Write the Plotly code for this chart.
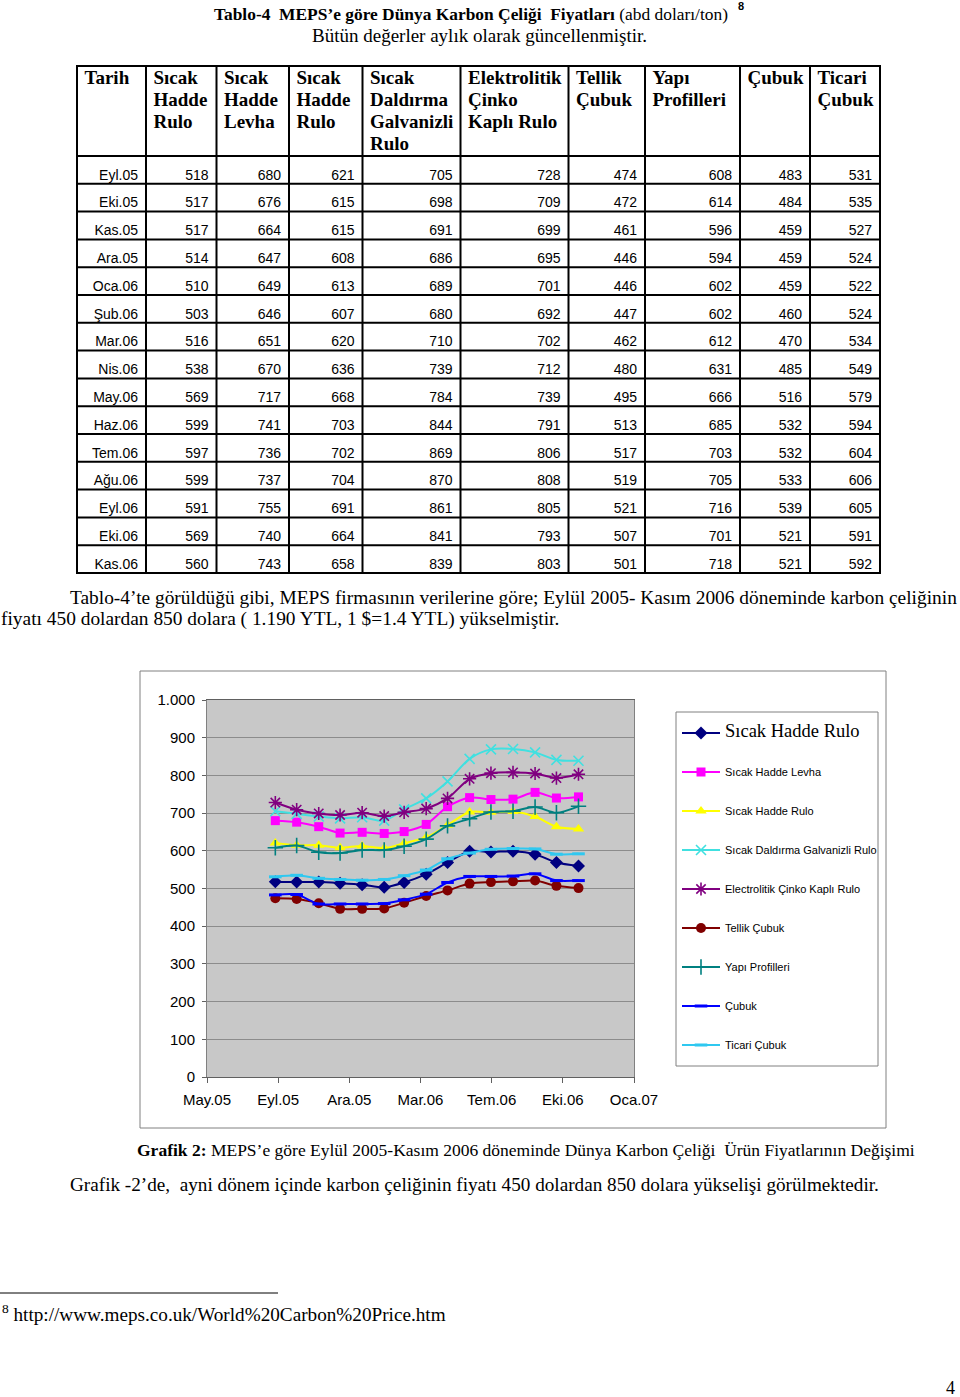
import plotly.graph_objects as go

# ---------------- data ----------------
months = ["Eyl.05", "Eki.05", "Kas.05", "Ara.05", "Oca.06", "Şub.06", "Mar.06", "Nis.06",
          "May.06", "Haz.06", "Tem.06", "Ağu.06", "Eyl.06", "Eki.06", "Kas.06"]
month_dates = ["2005-09-01", "2005-10-01", "2005-11-01", "2005-12-01", "2006-01-01", "2006-02-01",
               "2006-03-01", "2006-04-01", "2006-05-01", "2006-06-01", "2006-07-01", "2006-08-01",
               "2006-09-01", "2006-10-01", "2006-11-01"]

sicak_hadde_rulo = [518, 517, 517, 514, 510, 503, 516, 538, 569, 599, 597, 599, 591, 569, 560]
sicak_hadde_levha = [680, 676, 664, 647, 649, 646, 651, 670, 717, 741, 736, 737, 755, 740, 743]
sicak_hadde_rulo_2 = [621, 615, 615, 608, 613, 607, 620, 636, 668, 703, 702, 704, 691, 664, 658]
galvanizli_rulo = [705, 698, 691, 686, 689, 680, 710, 739, 784, 844, 869, 870, 861, 841, 839]
cinko_kapli_rulo = [728, 709, 699, 695, 701, 692, 702, 712, 739, 791, 806, 808, 805, 793, 803]
tellik_cubuk = [474, 472, 461, 446, 446, 447, 462, 480, 495, 513, 517, 519, 521, 507, 501]
yapi_profilleri = [608, 614, 596, 594, 602, 602, 612, 631, 666, 685, 703, 705, 716, 701, 718]
cubuk = [483, 484, 459, 459, 459, 460, 470, 485, 516, 532, 532, 533, 539, 521, 521]
ticari_cubuk = [531, 535, 527, 524, 522, 524, 534, 549, 579, 594, 604, 606, 605, 591, 592]

table_headers = ["Tarih", "Sıcak\nHadde\nRulo", "Sıcak\nHadde\nLevha", "Sıcak\nHadde\nRulo",
                 "Sıcak\nDaldırma\nGalvanizli\nRulo", "Elektrolitik\nÇinko\nKaplı Rulo",
                 "Tellik\nÇubuk", "Yapı\nProfilleri", "Çubuk", "Ticari\nÇubuk"]
legend_names = ["Sıcak Hadde Rulo", "Sıcak Hadde Levha", "Sıcak Hadde Rulo",
                "Sıcak Daldırma Galvanizli Rulo", "Electrolitik Çinko Kaplı Rulo",
                "Tellik Çubuk", "Yapı Profilleri", "Çubuk", "Ticari Çubuk"]

x_tick_dates = ["2005-05-28", "2005-09-05", "2005-12-14", "2006-03-24", "2006-07-02",
                "2006-10-10", "2007-01-18"]
x_tick_labels = ["May.05", "Eyl.05", "Ara.05", "Mar.06", "Tem.06", "Eki.06", "Oca.07"]

series_values = [sicak_hadde_rulo, sicak_hadde_levha, sicak_hadde_rulo_2, galvanizli_rulo,
                 cinko_kapli_rulo, tellik_cubuk, yapi_profilleri, cubuk, ticari_cubuk]

# ---------------- styles / page layout (pixels) ----------------
W, H = 960, 1397
SERIF = "Liberation Serif"
SANS = "Liberation Sans"

colors = ["#000080", "#FF00FF", "#FFFF00", "#40E0E0", "#800080", "#800000", "#008080", "#0000FF", "#2FC8F0"]
symbols = ["diamond", "square", "triangle-up", "x-thin-open", "asterisk-open", "circle",
           "cross-thin-open", "line-ew-open", "line-ew-open"]
msizes = [10, 9, 10, 10, 11, 10, 11, 9, 9]
mlinew = [0, 0, 0, 1.6, 1.6, 0, 1.6, 3, 3]

COL_EDGES = [77, 146, 216.5, 289, 362.5, 460.5, 568.5, 645, 740, 810, 880]
TABLE_TOP = 66
HEADER_BOTTOM = 156
ROW_H = 27.8

PLOT_L, PLOT_R, PLOT_T, PLOT_B = 207, 634, 700, 1077

fig = go.Figure()

# ---------------- chart ----------------
for i, vals in enumerate(series_values):
    name = legend_names[i]
    if i == 0:
        name = '<span style="font-family:Liberation Serif;font-size:18.5px">' + name + '</span>'
    fig.add_trace(go.Scatter(
        x=month_dates, y=vals, mode="lines+markers", name=name,
        legendgroup="g%d" % i,
        line=dict(color=colors[i], width=2, shape="spline", smoothing=0.8),
        marker=dict(symbol=symbols[i], size=msizes[i], color=colors[i],
                    line=dict(color=colors[i], width=mlinew[i])),
        xaxis="x", yaxis="y", hoverinfo="skip",
    ))

# ---------------- table (overlay pixel axes) ----------------
table_cols = [months] + [[str(v) for v in s] for s in series_values]
cx, cy, ct = [], [], []
for j, col in enumerate(table_cols):
    for i, v in enumerate(col):
        cx.append(COL_EDGES[j + 1] - 8)
        cy.append(HEADER_BOTTOM + ROW_H * i + 20)
        ct.append(v)
fig.add_trace(go.Scatter(
    x=cx, y=cy, text=ct, mode="text", textposition="middle left",
    textfont=dict(family=SANS, size=14, color="black"),
    xaxis="x2", yaxis="y2", showlegend=False, hoverinfo="skip"))

hx, hy, ht = [], [], []
for j, h in enumerate(table_headers):
    for k, line in enumerate(h.split("\n")):
        hx.append(COL_EDGES[j] + 7.5)
        hy.append(79.4 + 22 * k)
        ht.append("<b>" + line + "</b>")
fig.add_trace(go.Scatter(
    x=hx, y=hy, text=ht, mode="text", textposition="middle right",
    textfont=dict(family=SERIF, size=19, color="black"),
    xaxis="x2", yaxis="y2", showlegend=False, hoverinfo="skip"))

shapes = []
row_lines = [TABLE_TOP, HEADER_BOTTOM] + [HEADER_BOTTOM + ROW_H * (i + 1) for i in range(len(months))]
table_bottom = row_lines[-1]
for yv in row_lines:
    shapes.append(dict(type="line", xref="x2", yref="y2", x0=COL_EDGES[0] - 1, x1=COL_EDGES[-1] + 1,
                       y0=yv, y1=yv, line=dict(color="black", width=2)))
for xv in COL_EDGES:
    shapes.append(dict(type="line", xref="x2", yref="y2", x0=xv, x1=xv, y0=TABLE_TOP, y1=table_bottom,
                       line=dict(color="black", width=2)))

# chart frame, legend frame, plot area background
shapes.append(dict(type="rect", xref="x2", yref="y2", x0=140, x1=886, y0=671, y1=1128,
                   line=dict(color="#808080", width=1), fillcolor="rgba(0,0,0,0)"))
shapes.append(dict(type="rect", xref="x2", yref="y2", x0=676, x1=878, y0=712, y1=1066,
                   line=dict(color="#808080", width=1), fillcolor="rgba(0,0,0,0)"))
shapes.append(dict(type="rect", xref="x domain", yref="y domain", x0=0, x1=1, y0=0, y1=1,
                   line=dict(width=0), fillcolor="#c8c8c8", layer="below"))
# footnote rule
shapes.append(dict(type="line", xref="x2", yref="y2", x0=0, x1=278, y0=1293, y1=1293,
                   line=dict(color="black", width=1)))


def ann(x, y, text, size, xanchor="left", family=SERIF, xshift=0):
    return dict(x=x, y=y, xref="x2", yref="y2", text=text, showarrow=False,
                xanchor=xanchor, yanchor="middle", xshift=xshift,
                font=dict(family=family, size=size, color="black"))


annotations = [
    ann(471, 14, "<b>Tablo-4  MEPS’e göre Dünya Karbon Çeliği  Fiyatları</b> (abd doları/ton)", 17.4, "center"),
    ann(741, 6, "<b>8</b>", 11, "center", SANS),
    ann(479, 35, "Bütün değerler aylık olarak güncellenmiştir.", 19, "center"),
    ann(68, 597, "Tablo-4’te görüldüğü gibi, MEPS firmasının verilerine göre; Eylül 2005- Kasım 2006 döneminde karbon çeliğinin", 19.4),
    ann(0.5, 619, "fiyatı 450 dolardan 850 dolara ( 1.190 YTL, 1 $=1.4 YTL) yükselmiştir.", 19.4, xshift=-2),
    ann(526, 1150, "<b>Grafik 2:</b> MEPS’e göre Eylül 2005-Kasım 2006 döneminde Dünya Karbon Çeliği  Ürün Fiyatlarının Değişimi", 17.5, "center"),
    ann(68, 1184, "Grafik -2’de,  ayni dönem içinde karbon çeliğinin fiyatı 450 dolardan 850 dolara yükselişi görülmektedir.", 19.2),
    ann(0.5, 1313, "<sup>8</sup> http://www.meps.co.uk/World%20Carbon%20Price.htm", 19.2, xshift=-1),
    ann(957, 1388, "4", 18, "right"),
]

fig.update_layout(
    width=W, height=H,
    margin=dict(l=0, r=0, t=0, b=0, pad=0, autoexpand=False),
    paper_bgcolor="white", plot_bgcolor="rgba(0,0,0,0)",
    separators=",.",
    showlegend=True,
    legend=dict(x=677 / W, y=1 - 718.5 / H, xanchor="left", yanchor="top",
                bgcolor="rgba(0,0,0,0)", borderwidth=0, itemwidth=38, tracegroupgap=20,
                font=dict(family=SANS, size=11, color="black"), itemclick=False, itemdoubleclick=False),
    xaxis=dict(domain=[PLOT_L / W, PLOT_R / W], type="date",
               range=[x_tick_dates[0], x_tick_dates[-1]],
               tickvals=x_tick_dates, ticktext=x_tick_labels,
               ticks="outside", ticklen=5, tickcolor="#606060", tickwidth=1,
               ticklabelstandoff=4,
               showline=True, linecolor="#606060", linewidth=1, mirror=True,
               showgrid=False, zeroline=False,
               tickfont=dict(family=SANS, size=15, color="black"), fixedrange=True),
    yaxis=dict(domain=[1 - PLOT_B / H, 1 - PLOT_T / H], range=[0, 1000], dtick=100,
               tickformat=",d",
               ticks="outside", ticklen=4, tickcolor="#606060", tickwidth=1,
               ticklabelstandoff=4,
               showline=True, linecolor="#808080", linewidth=1, mirror=True,
               showgrid=True, gridcolor="#8c8c8c", gridwidth=1, zeroline=False,
               tickfont=dict(family=SANS, size=15, color="black"), fixedrange=True),
    xaxis2=dict(domain=[0, 1], range=[0, W], visible=False, anchor="y2", fixedrange=True),
    yaxis2=dict(domain=[0, 1], range=[H, 0], visible=False, anchor="x2", fixedrange=True),
    shapes=shapes,
    annotations=annotations,
)

fig.write_html("out.html", config={"displayModeBar": False},
               post_script="document.body.style.margin='0px';")
